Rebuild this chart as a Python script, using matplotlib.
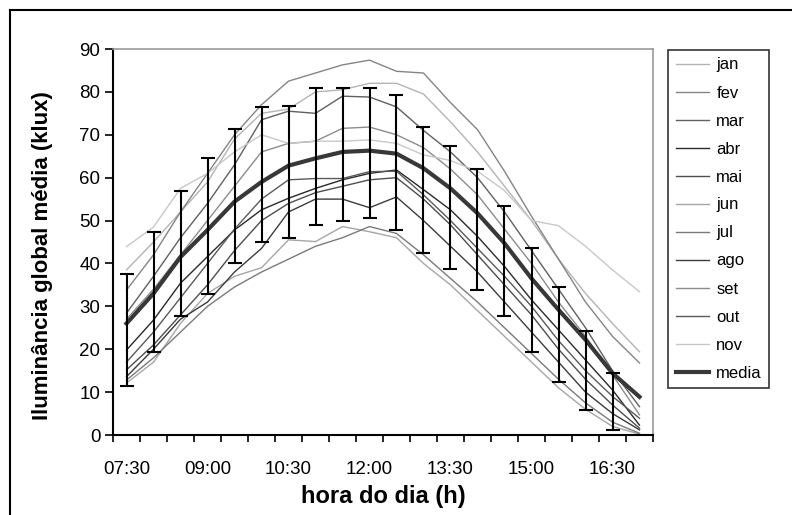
import numpy as np
import matplotlib.pyplot as plt
from matplotlib.lines import Line2D

plt.rcParams['font.family'] = ['Liberation Sans', 'DejaVu Sans']

horas = ['07:30', '08:00', '08:30', '09:00', '09:30', '10:00', '10:30', '11:00',
         '11:30', '12:00', '12:30', '13:00', '13:30', '14:00', '14:30', '15:00',
         '15:30', '16:00', '16:30', '17:00']

jan = [38.5, 45, 52, 59, 69, 75, 76, 80, 80.5, 82, 82, 79.5, 73, 66, 58, 50, 41, 33, 26, 19.4]
fev = [33.8, 42, 52, 61, 70, 77, 82.5, 84.4, 86.3, 87.4, 84.8, 84.4, 77.5, 71.2, 61.5, 51, 41, 31, 23, 16.8]
mar = [28.4, 37, 46, 54, 63, 73.5, 75.5, 75, 79, 78.8, 76.5, 71, 66, 60, 52, 43, 34, 25, 15, 6.6]
abr = [19.8, 26.8, 35.4, 41.6, 47.8, 52.5, 55.2, 57.5, 59.5, 61, 61.8, 57.2, 52.5, 46.3, 39.3, 31.5, 24.5, 17.5, 10.5, 2.3]
mai = [15.2, 21, 28, 35, 43, 50, 54, 56.5, 58, 59.5, 60, 55, 49, 42, 35, 28, 20, 13, 7, 1.6]
jun = [12.1, 17, 26, 33, 37, 39, 45.5, 45.1, 48.6, 47.4, 46, 40, 35, 29, 23, 17, 11, 6, 2, 0.2]
jul = [12.8, 18, 24, 30, 34.5, 38, 41, 44, 46, 48.6, 47, 42, 36.5, 31, 25, 19, 13, 7.5, 3, 0.4]
ago = [13.6, 20, 27, 31, 38, 43.5, 52, 55, 55, 53, 55.5, 50, 44, 38, 31, 24, 17, 10, 5, 1.2]
set_ = [27, 34, 42, 50, 58, 66, 68, 68.5, 71.5, 71.8, 70, 67, 62, 56, 48, 40, 31, 23, 14, 4.7]
out = [17, 24, 32, 40, 48, 55, 59.5, 59.8, 59.8, 61.4, 61.5, 56, 50, 43.5, 37, 30, 22, 15, 9, 3.9]
nov = [43.9, 48.5, 57.5, 61, 66, 70, 68, 68.5, 68.5, 68.8, 68, 65.3, 64, 61.5, 57, 50, 48.8, 44, 38.5, 33.4]

media = [26, 33, 41.5, 47.8, 54.4, 59, 62.8, 64.5, 66, 66.3, 65.6, 62.2, 57.5, 51.7,
         44.7, 36.5, 29.2, 22.2, 14.4, 8.9]
# limites das barras de erro (sem barra no ultimo horario)
erro_sup = [37.5, 47.4, 56.8, 64.7, 71.3, 76.4, 76.8, 81, 81, 81, 79.2, 71.8, 67.5, 62,
            53.5, 43.5, 34.6, 24.3, 14.4]
erro_inf = [11.4, 19.4, 27.8, 32.9, 40, 45.1, 45.9, 49, 49.8, 50.7, 47.8, 42.4, 38.6,
            33.8, 27.8, 19.4, 12.4, 5.8, 1.2]

meses = ['jan', 'fev', 'mar', 'abr', 'mai', 'jun', 'jul', 'ago', 'set', 'out', 'nov']
series = [jan, fev, mar, abr, mai, jun, jul, ago, set_, out, nov]
cores = ['#b4b4b4', '#858585', '#606060', '#2a2a2a', '#4e4e4e', '#a6a6a6',
         '#7a7a7a', '#3c3c3c', '#8c8c8c', '#5a5a5a', '#c8c8c8']

fig = plt.figure(figsize=(7.92, 5.15), dpi=100)
ax = fig.add_axes([113 / 792, 1 - 435 / 515, 540 / 792, 386 / 515])

x = np.arange(len(horas))
for s, c, m in zip(series, cores, meses):
    ax.plot(x, s, color=c, lw=1.0, label=m)
ax.plot(x, media, color='#383838', lw=3, label='media', zorder=5)

n = len(erro_sup)
me = np.array(media[:n])
yerr = [me - np.array(erro_inf), np.array(erro_sup) - me]
ax.errorbar(x[:n], me, yerr=yerr, fmt='none', ecolor='black', elinewidth=1.5,
            capsize=5, capthick=1.5, zorder=6)

ax.set_xlim(-0.5, len(horas) - 0.5)
ax.set_ylim(0, 90)
ax.set_yticks(range(0, 91, 10))
ax.set_xticks(np.arange(-0.5, len(horas), 1))
ax.set_xticklabels([])
ax.set_xticks(x[::3], minor=True)
ax.set_xticklabels(horas[::3], minor=True)
ax.tick_params(axis='x', which='major', direction='out', length=5, width=1.2)
ax.tick_params(axis='x', which='minor', length=0, pad=19, labelsize=13.5)
ax.tick_params(axis='y', direction='out', length=6, width=1.2, labelsize=13.5, pad=3)

for sp in ['left', 'bottom']:
    ax.spines[sp].set_linewidth(1.5)
for sp in ['top', 'right']:
    ax.spines[sp].set_color('#999999')
    ax.spines[sp].set_linewidth(1.2)

ax.set_xlabel('hora do dia (h)', fontsize=17, fontweight='bold')
ax.xaxis.set_label_coords(0.5, -0.13)
ax.set_ylabel('Iluminância global média (klux)', fontsize=16, fontweight='bold')
ax.yaxis.set_label_coords(-0.112, 0.464)

handles, labels = ax.get_legend_handles_labels()
leg = fig.legend(handles, labels, loc='upper left', bbox_to_anchor=(668 / 792, 1 - 50 / 515),
                 fontsize=12, frameon=True, fancybox=False, edgecolor='black',
                 handlelength=2.0, handletextpad=0.45, labelspacing=0.78, borderpad=0.45,
                 borderaxespad=0)
leg.get_frame().set_linewidth(1.2)

fig.add_artist(Line2D([10 / 792, 10 / 792], [0, 1 - 10 / 515], color='black', lw=1.5,
                      transform=fig.transFigure))
fig.add_artist(Line2D([10 / 792, 1], [1 - 10 / 515, 1 - 10 / 515], color='black', lw=1.5,
                      transform=fig.transFigure))

fig.savefig('out.png', dpi=100)
